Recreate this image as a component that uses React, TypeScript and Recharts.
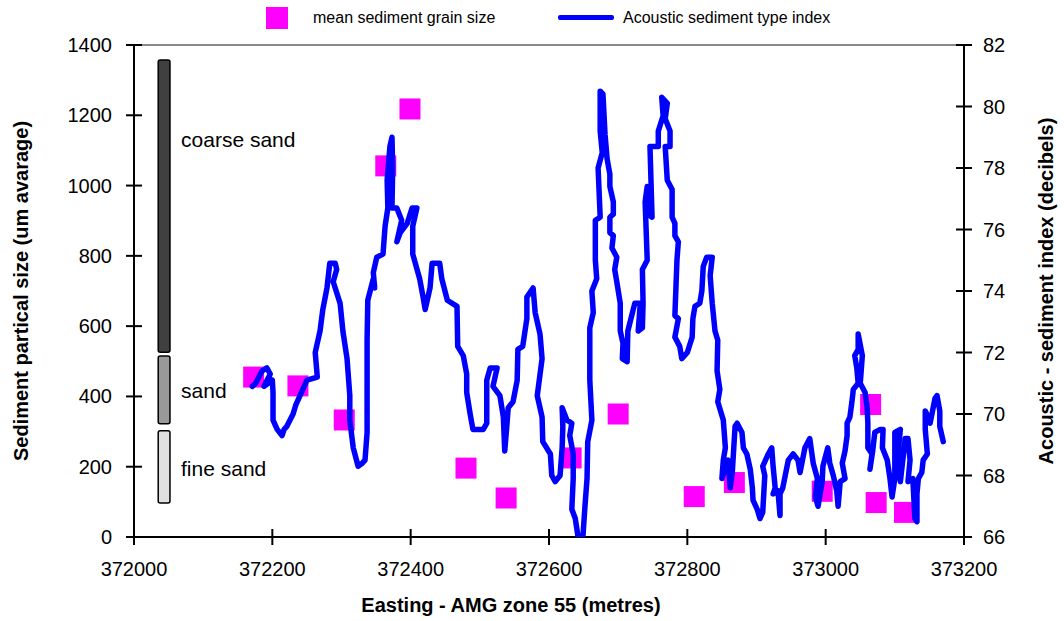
import {
  ScatterChart,
  Scatter,
  XAxis,
  YAxis,
  ReferenceArea,
  ReferenceDot,
  ReferenceLine,
  Legend,
} from "recharts";

// Easting (m) along the survey track
const acousticEasting = [
  372171, 372176, 372185, 372192, 372197, 372188, 372200, 372201, 372201, 372207,
  372214, 372217, 372221, 372230, 372234, 372240, 372246, 372250, 372265, 372262,
  372269, 372273, 372279, 372283, 372291, 372293, 372288, 372298, 372302, 372308,
  372312, 372312, 372317, 372324, 372330, 372334, 372337, 372337, 372337, 372338,
  372346, 372348, 372346, 372351, 372360, 372363, 372367, 372366, 372370, 372373,
  372374, 372373, 372380, 372387, 372380, 372385, 372395, 372402, 372409, 372403,
  372403, 372413, 372418, 372421, 372428, 372431, 372442, 372445, 372453, 372467,
  372468, 372476, 372481, 372481, 372486, 372490, 372505, 372510, 372510, 372515,
  372525, 372519, 372529, 372534, 372536, 372539, 372541, 372548, 372554, 372555,
  372562, 372568, 372568, 372577, 372580, 372587, 372590, 372583, 372590, 372591,
  372602, 372604, 372609, 372616, 372619, 372620, 372619, 372626, 372633, 372630,
  372635, 372635, 372633, 372638, 372642, 372649, 372652, 372655, 372656, 372662,
  372659, 372659, 372664, 372662, 372669, 372667, 372667, 372674, 372671, 372677,
  372674, 372674, 372678, 372681, 372684, 372688, 372688, 372693, 372693, 372688,
  372688, 372693, 372691, 372698, 372695, 372698, 372703, 372703, 372707, 372706,
  372713, 372714, 372724, 372732, 372729, 372735, 372736, 372735, 372742, 372739,
  372742, 372743, 372749, 372746, 372758, 372758, 372765, 372763, 372771, 372768,
  372775, 372775, 372768, 372771, 372778, 372778, 372782, 372782, 372787, 372785,
  372782, 372787, 372782, 372789, 372792, 372800, 372807, 372808, 372811, 372818,
  372821, 372823, 372828, 372836, 372833, 372836, 372840, 372844, 372843, 372847,
  372844, 372852, 372855, 372852, 372850, 372859, 372862, 372865, 372869, 372872,
  372879, 372881, 372886, 372891, 372894, 372895, 372901, 372905, 372909, 372912,
  372909, 372917, 372922, 372924, 372927, 372924, 372931, 372934, 372934, 372938,
  372946, 372953, 372960, 372963, 372970, 372977, 372982, 372988, 372985, 372989,
  372995, 372996, 373003, 373006, 373011, 373016, 373018, 373021, 373028, 373024,
  373028, 373031, 373031, 373035, 373038, 373040, 373047, 373045, 373042, 373047,
  373047, 373053, 373050, 373057, 373060, 373061, 373061, 373067, 373064, 373068,
  373071, 373079, 373083, 373082, 373089, 373093, 373096, 373100, 373100, 373108,
  373105, 373108, 373115, 373119, 373122, 373119, 373126, 373129, 373132, 373132,
  373134, 373139, 373141, 373147, 373144, 373144, 373148, 373151, 373158, 373161,
  373165, 373165, 373170,
];

// Acoustic sediment type index (dB)
const acousticIndex = [
  70.9, 71.0, 71.4, 71.5, 71.3, 70.9, 71.1, 70.7, 69.8, 69.5,
  69.3, 69.5, 69.6, 70.0, 70.3, 70.6, 70.9, 71.1, 71.2, 72.0,
  72.7, 73.4, 74.1, 74.9, 74.9, 74.7, 74.3, 73.6, 72.7, 71.8,
  70.6, 69.8, 68.9, 68.3, 68.4, 68.5, 69.4, 70.7, 72.4, 73.7,
  74.4, 74.1, 74.6, 75.1, 75.2, 76.1, 76.7, 77.6, 78.7, 79.0,
  78.0, 76.7, 76.7, 76.3, 75.6, 75.9, 76.2, 76.7, 76.7, 76.1,
  75.2, 74.4, 73.8, 73.4, 74.1, 74.9, 74.9, 74.4, 73.7, 73.5,
  72.2, 71.9, 71.3, 70.7, 70.0, 69.5, 69.5, 69.7, 71.1, 71.5,
  71.5, 70.9, 70.6, 69.9, 68.8, 69.6, 70.2, 70.4, 71.1, 72.1,
  72.2, 73.1, 73.8, 74.1, 73.3, 72.6, 71.8, 70.6, 69.9, 69.1,
  68.7, 68.0, 67.8, 68.0, 68.9, 69.6, 70.2, 69.8, 69.7, 69.3,
  68.7, 67.9, 66.9, 66.6, 66.0, 66.0, 67.0, 67.9, 69.1, 69.8,
  71.1, 72.8, 73.3, 74.0, 74.4, 75.0, 76.3, 76.4, 78.0, 78.5,
  79.2, 80.5, 80.4, 79.1, 78.3, 77.8, 77.4, 76.9, 76.5, 76.4,
  75.9, 75.8, 75.4, 75.1, 74.7, 74.3, 73.6, 72.7, 72.3, 71.8,
  71.7, 72.7, 73.6, 73.6, 72.7, 72.8, 73.6, 74.7, 75.0, 76.9,
  77.4, 76.5, 76.4, 78.7, 78.7, 79.2, 79.7, 80.3, 80.1, 79.6,
  79.2, 78.7, 78.7, 77.6, 77.3, 76.4, 76.2, 75.8, 75.6, 75.0,
  73.2, 73.1, 72.5, 72.2, 71.8, 72.0, 72.5, 73.1, 73.5, 73.6,
  74.0, 74.8, 75.1, 75.1, 74.5, 73.6, 72.7, 72.4, 71.4, 70.8,
  70.4, 69.8, 68.9, 68.5, 67.9, 68.5, 67.6, 68.1, 69.6, 69.7,
  69.4, 68.9, 68.7, 68.2, 67.6, 67.2, 66.9, 66.6, 66.8, 68.0,
  68.3, 68.7, 68.9, 68.3, 67.6, 67.4, 67.5, 66.7, 67.4, 67.6,
  68.5, 68.7, 68.5, 68.1, 68.9, 69.2, 68.4, 67.9, 67.3, 67.0,
  67.8, 68.3, 68.9, 68.4, 68.0, 67.5, 67.0, 67.8, 67.9, 68.4,
  68.8, 69.3, 69.7, 69.9, 70.4, 70.8, 71.0, 71.5, 71.9, 72.1,
  72.6, 71.9, 71.0, 70.7, 70.2, 69.7, 68.9, 68.7, 68.2, 68.8,
  69.4, 69.5, 69.5, 68.9, 68.5, 67.9, 67.3, 67.9, 69.4, 69.5,
  68.8, 67.8, 69.2, 69.2, 68.5, 67.8, 67.9, 66.6, 66.5, 67.4,
  67.9, 68.1, 68.5, 68.7, 69.5, 70.1, 69.9, 69.7, 70.5, 70.6,
  70.1, 69.6, 69.1,
];

// mean sediment grain size samples
const grainEasting = [
  372173, 372237, 372304, 372364, 372399, 372480, 372538, 372632,
  372700, 372810, 372868, 372995, 373065, 373073, 373114,
];
const grainSize = [455, 430, 333, 1056, 1218, 196, 111, 225, 350, 115, 155, 130, 377, 98, 70];

// grain size classes shown as bars on the left
const classNames = ["coarse sand", "sand", "fine sand"];
const classLow = [526, 322, 97];
const classHigh = [1357, 515, 302];
const classLabelY = [1130, 418, 194];
const classColors = ["#404040", "#999999", "#e0e0e0"];

const eastingTicks = [372000, 372200, 372400, 372600, 372800, 373000, 373200];
const sizeTicks = [0, 200, 400, 600, 800, 1000, 1200, 1400];
const indexTicks = [66, 68, 70, 72, 74, 76, 78, 80, 82];

const acousticData = acousticEasting
  .slice(0, Math.min(acousticEasting.length, acousticIndex.length))
  .map((x, i) => ({ x, y: acousticIndex[i] }));
const grainData = grainEasting.map((x, i) => ({ x, y: grainSize[i] }));

const BLUE = "#0000ff";
const MAGENTA = "#ff00ff";
const TICK = 8;

function LeftTick({ x, y, payload }: any) {
  return (
    <g>
      <line x1={x + 14} x2={x + 14 + TICK * 2} y1={y} y2={y} stroke="#000" strokeWidth={2} />
      <text x={x} y={y} textAnchor="end" dominantBaseline="central" fontSize={20} fill="#000">
        {payload.value}
      </text>
    </g>
  );
}

function RightTick({ x, y, payload }: any) {
  return (
    <g>
      <line x1={x - 11 - TICK * 2} x2={x - 11} y1={y} y2={y} stroke="#000" strokeWidth={2} />
      <text x={x} y={y} textAnchor="start" dominantBaseline="central" fontSize={20} fill="#000">
        {payload.value}
      </text>
    </g>
  );
}

function BottomTick({ x, y, payload }: any) {
  return (
    <g>
      <line x1={x} x2={x} y1={y - 17 - TICK * 2} y2={y - 17} stroke="#000" strokeWidth={2} />
      <text x={x} y={y} dy="0.72em" textAnchor="middle" fontSize={20} fill="#000">
        {payload.value}
      </text>
    </g>
  );
}

function LegendBox() {
  return (
    <div style={{ position: "relative", width: 1064, height: 40, fontSize: 16, color: "#000" }}>
      <div style={{ position: "absolute", left: 266, top: 7, width: 22, height: 22, background: MAGENTA }} />
      <div style={{ position: "absolute", left: 313, top: 8, lineHeight: "20px" }}>mean sediment grain size</div>
      <div style={{ position: "absolute", left: 558, top: 15, width: 56, height: 5, background: BLUE, borderRadius: 2 }} />
      <div style={{ position: "absolute", left: 623, top: 8, lineHeight: "20px" }}>Acoustic sediment type index</div>
    </div>
  );
}

const titleStyle = { fontSize: 20, fontWeight: 700, fill: "#000" };

export default function App() {
  return (
    <div
      style={{
        position: "absolute",
        top: 0,
        left: 0,
        width: 1064,
        height: 621,
        background: "#fff",
        fontFamily: "'Liberation Sans', Arial, sans-serif",
      }}
    >
      <ScatterChart width={1064} height={621} margin={{ top: 45, right: 0, bottom: 0, left: 0 }}>
        <XAxis
          dataKey="x"
          type="number"
          domain={[372000, 373200]}
          ticks={eastingTicks}
          interval={0}
          allowDataOverflow
          height={84}
          tickSize={TICK}
          tickMargin={17}
          tickLine={false}
          axisLine={{ stroke: "#000", strokeWidth: 2 }}
          tick={<BottomTick />}
          label={{
            content: ({ viewBox }: any) => (
              <text x={viewBox.x + 377} y={viewBox.y + 75} textAnchor="middle" {...titleStyle}>
                Easting - AMG zone 55 (metres)
              </text>
            ),
          }}
        />
        <YAxis
          yAxisId="left"
          dataKey="y"
          type="number"
          domain={[0, 1400]}
          ticks={sizeTicks}
          interval={0}
          allowDataOverflow
          width={134}
          tickSize={TICK}
          tickMargin={14}
          tickLine={false}
          axisLine={{ stroke: "#000", strokeWidth: 2 }}
          tick={<LeftTick />}
          label={{
            content: ({ viewBox }: any) => {
              const cx = viewBox.x + 21;
              const cy = viewBox.y + viewBox.height / 2;
              return (
                <text
                  x={cx}
                  y={cy}
                  transform={`rotate(-90, ${cx}, ${cy})`}
                  textAnchor="middle"
                  dominantBaseline="central"
                  {...titleStyle}
                >
                  Sediment partical size (um avarage)
                </text>
              );
            },
          }}
        />
        <YAxis
          yAxisId="right"
          orientation="right"
          dataKey="y"
          type="number"
          domain={[66, 82]}
          ticks={indexTicks}
          interval={0}
          allowDataOverflow
          width={100}
          tickSize={TICK}
          tickMargin={11}
          tickLine={false}
          axisLine={{ stroke: "#000", strokeWidth: 2 }}
          tick={<RightTick />}
          label={{
            content: ({ viewBox }: any) => {
              const cx = viewBox.x + 82;
              const cy = viewBox.y + viewBox.height / 2;
              return (
                <text
                  x={cx}
                  y={cy}
                  transform={`rotate(-90, ${cx}, ${cy})`}
                  textAnchor="middle"
                  dominantBaseline="central"
                  {...titleStyle}
                >
                  Acoustic - sediment index (decibels)
                </text>
              );
            },
          }}
        />
        <ReferenceLine yAxisId="left" y={1400} stroke="#888" strokeWidth={2} />

        {classNames.map((name, i) => (
          <ReferenceArea
            key={name}
            yAxisId="left"
            x1={372035}
            x2={372052}
            y1={classLow[i]}
            y2={classHigh[i]}
            fill={classColors[i]}
            fillOpacity={1}
            stroke="#000"
            strokeWidth={1.5}
            radius={2}
            ifOverflow="visible"
          />
        ))}
        {classNames.map((name, i) => (
          <ReferenceDot
            key={`lbl-${name}`}
            yAxisId="left"
            x={372068}
            y={classLabelY[i]}
            ifOverflow="visible"
            shape={(p: any) => (
              <text x={p.cx} y={p.cy} dominantBaseline="central" fontSize={21} fill="#000">
                {name}
              </text>
            )}
          />
        ))}

        <Scatter
          name="mean sediment grain size"
          yAxisId="left"
          data={grainData}
          fill={MAGENTA}
          isAnimationActive={false}
          shape={(p: any) => (
            <rect x={p.cx - 10.5} y={p.cy - 10.5} width={21} height={21} fill={MAGENTA} />
          )}
        />
        <Scatter
          name="Acoustic sediment type index"
          yAxisId="right"
          data={acousticData}
          fill={BLUE}
          isAnimationActive={false}
          line={{ stroke: BLUE, strokeWidth: 5.5, strokeLinejoin: "round", strokeLinecap: "round" }}
          lineType="joint"
          shape={() => <g />}
        />

        <Legend
          layout="vertical"
          align="center"
          verticalAlign="middle"
          wrapperStyle={{ top: 0, left: 0, width: 1064, height: 40 }}
          content={() => <LegendBox />}
        />
      </ScatterChart>
    </div>
  );
}
